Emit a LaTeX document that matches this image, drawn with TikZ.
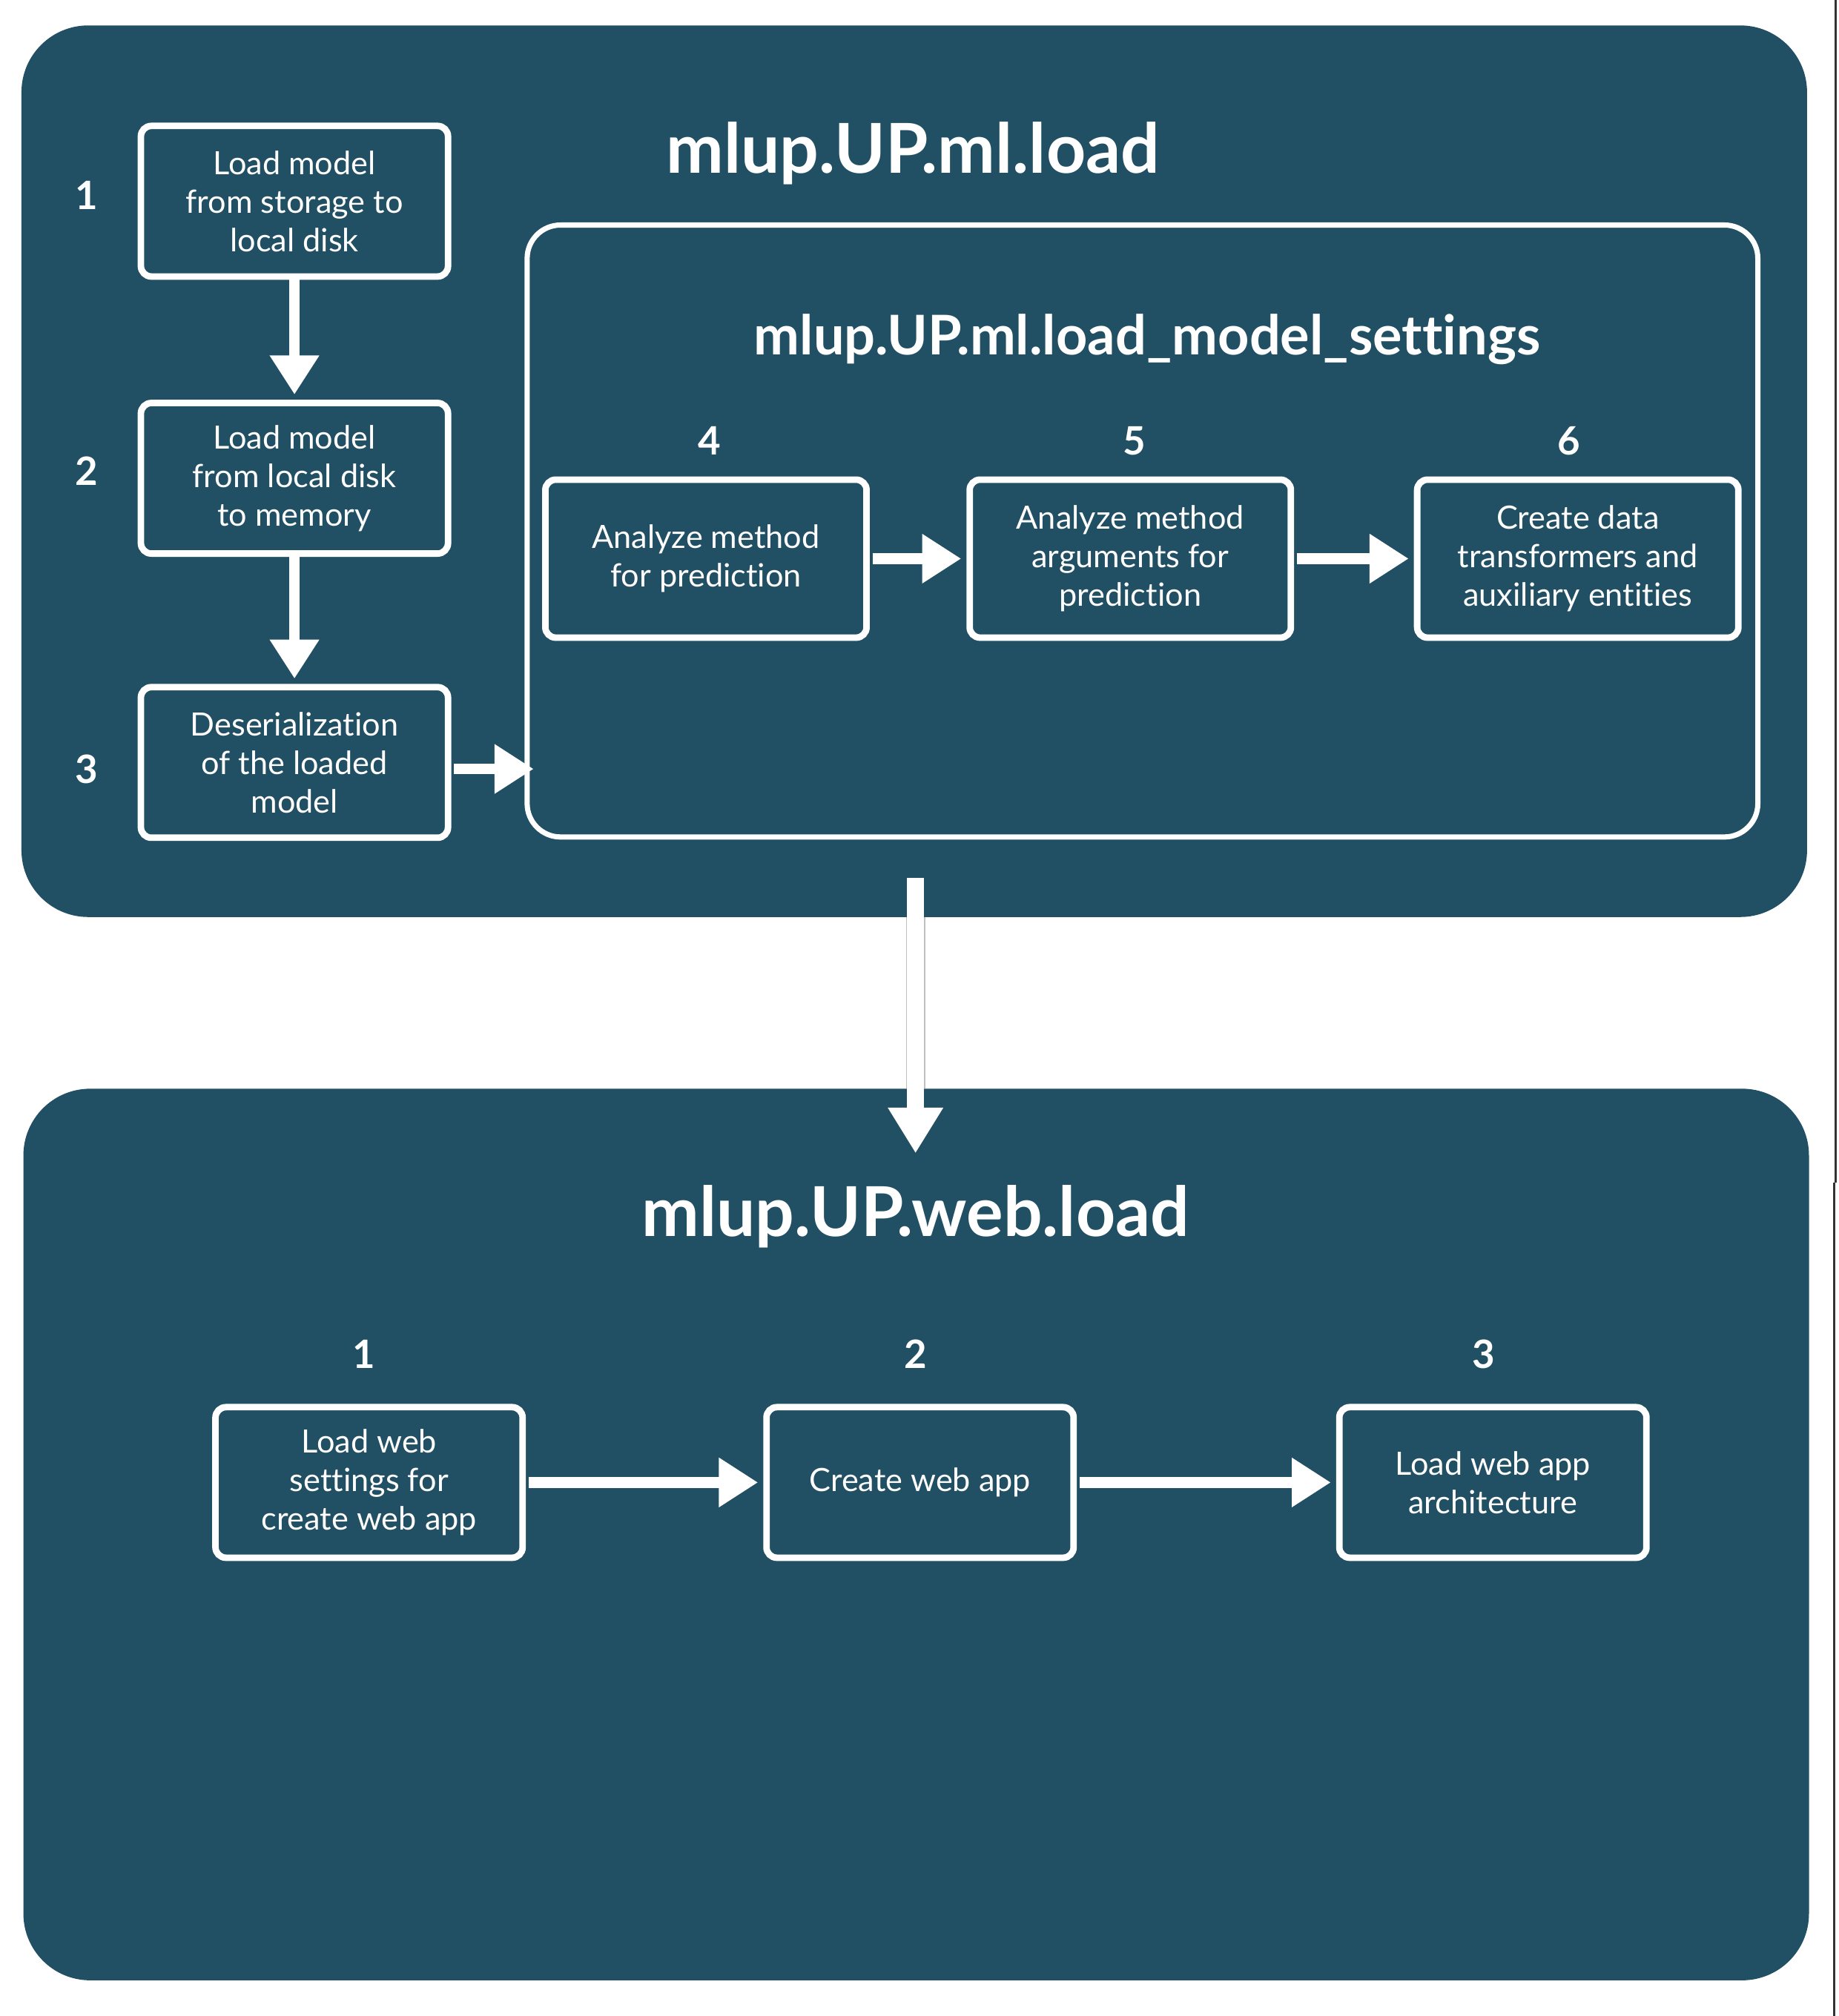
\documentclass[tikz,border=0pt]{standalone}
\usepackage{fontspec}
\setmainfont{Lato}[Ligatures=NoCommon]
\usetikzlibrary{arrows.meta}
\definecolor{panelblue}{RGB}{33,79,99}

\begin{document}
\begin{tikzpicture}[x=0.01734cm,y=-0.01734cm,
        panel/.style={fill=panelblue,rounded corners=0.9cm,minimum width=24.07cm,minimum height=12.02cm},
        stepbox/.style={draw=white,line width=2.5pt,rounded corners=4pt,text=white,align=center,
            minimum width=4.14cm,minimum height=2.03cm,font=\fontsize{12.3}{14.8}\selectfont},
        widebox/.style={stepbox,minimum width=4.33cm,minimum height=2.13cm},
        numlabel/.style={text=white,anchor=base,font=\bfseries\fontsize{15}{15}\selectfont},
        paneltitle/.style={text=white,anchor=base,font=\bfseries\fontsize{26.4}{26.4}\selectfont},
        flow/.style={white,line width=4.2pt,-{Triangle[width=18pt,length=15pt]},shorten <=1pt,shorten >=2pt}]
        \useasboundingbox (0,0) rectangle (1430,1568);
        \node[panel] (mlpanel) at (711,366.5) {};
        \node[panel] (webpanel) at (712.5,1193.5) {};
        \draw[black!80,line width=0.8pt] (1427.5,0) -- (1427.5,920);
        \draw[black!80,line width=0.8pt] (1426.5,920) -- (1426.5,1568);

        \node[paneltitle] (mltitle) at (710,134.5) {mlup.UP.ml.load};
        \node[draw=white,line width=2pt,rounded corners=0.45cm,minimum width=16.59cm,minimum height=8.25cm] (settings) at (888.5,413) {};
        \node[paneltitle,font=\bfseries\fontsize{21}{21}\selectfont] (settingstitle) at (892,276) {mlup.UP.ml.load\_model\_settings};

        \node[stepbox] (b1) at (229,156.5) {Load model\\from storage to\\local disk};
        \node[stepbox] (b2) at (229,372) {Load model\\from local disk\\to memory};
        \node[stepbox] (b3) at (229,593) {Deserialization\\of the loaded\\model};
        \node[numlabel] (n1) at (67.5,163) {1};
        \node[numlabel] (n2) at (67.5,377.5) {2};
        \node[numlabel] (n3) at (67.5,609) {3};

        \node[widebox] (b4) at (549,434.5) {Analyze method\\for prediction};
        \node[widebox] (b5) at (879,434.5) {Analyze method\\arguments for\\prediction};
        \node[widebox] (b6) at (1227,434.5) {Create data\\transformers and\\auxiliary entities};
        \node[numlabel] (n4) at (552,354) {4};
        \node[numlabel] (n5) at (882,354) {5};
        \node[numlabel] (n6) at (1220,354) {6};

        \draw[flow,shorten <=0pt] (b1) -- (b2);
        \draw[flow,shorten <=0pt] (b2) -- (b3);
        \draw[flow,shorten >=-3.5pt] ([yshift=-2.5pt]b3.east) -- ([yshift=-2.5pt]b3.east -| settings.west);
        \draw[flow] (b4) -- (b5);
        \draw[flow] (b5) -- (b6);

        \coordinate (drop) at (712,683);
        \coordinate (land) at (712,897);
        \draw[gray!50,line width=7.4pt] (drop |- mlpanel.south) -- (drop |- webpanel.north);
        \draw[white,line width=6.4pt,-{Triangle[width=20pt,length=17.5pt]}] (drop) -- (land);

        \node[paneltitle] (webtitle) at (712,961.5) {mlup.UP.web.load};
        \node[stepbox] (w1) at (287,1153) {Load web\\settings for\\create web app};
        \node[stepbox] (w2) at (715.5,1153) {Create web app};
        \node[stepbox] (w3) at (1161,1153) {Load web app\\architecture};
        \node[numlabel] (m1) at (283,1064.5) {1};
        \node[numlabel] (m2) at (712,1064.5) {2};
        \node[numlabel] (m3) at (1154,1064.5) {3};

        \draw[flow] (w1) -- (w2);
        \draw[flow] (w2) -- (w3);
\end{tikzpicture}
\end{document}
